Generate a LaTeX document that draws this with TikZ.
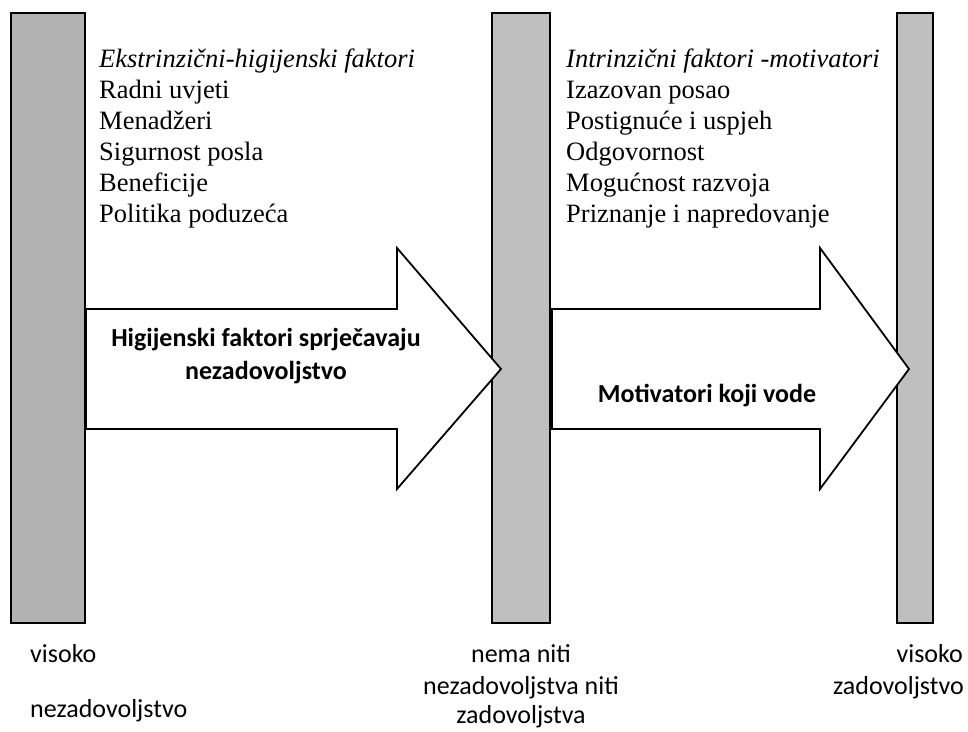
\documentclass[tikz,border=0pt]{standalone}
\usepackage{fontspec}
\setmainfont{Liberation Serif}
\newfontfamily\calibri{Carlito}
\begin{document}
\begin{tikzpicture}[x=1pt,y=-1pt,
        bar/.style={draw,line width=2.5pt,fill=#1},
        bigarrow/.style={draw,line width=1.8pt,fill=white,line join=miter},
        listtxt/.style={anchor=base west,inner sep=0pt,font=\fontsize{26.5}{31}\selectfont},
        armtxt/.style={align=center,inner sep=0pt,font=\calibri\bfseries\fontsize{26}{33}\selectfont},
        lbl/.style={inner sep=0pt,font=\calibri\fontsize{26}{32}\selectfont}]
    \useasboundingbox (0,0) rectangle (968,731);
    % bars
    \draw[bar=black!30] (11,13) rectangle (85,623);
    \draw[bar=black!25] (492,13) rectangle (550,623);
    \draw[bar=black!25] (897,13) rectangle (933,623);
    % arrows
    \draw[bigarrow] (86,309) -- (397,309) -- (397,248) -- (501,369) -- (397,489) -- (397,429) -- (86,429) -- cycle;
    \draw[bigarrow] (552,309) -- (820,309) -- (820,248) -- (909,369) -- (820,489) -- (820,429) -- (552,429) -- cycle;
    \node[armtxt] (hyg) at (266,356) {Higijenski faktori sprječavaju\\nezadovoljstvo};
    \node[armtxt,anchor=base] (mot) at (707,402) {Motivatori koji vode};
    % lists
    \node[listtxt] (ektitle) at (99,67) {\itshape Ekstrinzični-higijenski faktori};
    \foreach \t [count=\i] in {Radni uvjeti,Menadžeri,Sigurnost posla,Beneficije,Politika poduzeća}
        \node[listtxt] (ek\i) at (99,67+31*\i) {\t};
    \node[listtxt] (intitle) at (566,67) {\itshape Intrinzični faktori -motivatori};
    \foreach \t [count=\i] in {Izazovan posao,Postignuće i uspjeh,Odgovornost,Mogućnost razvoja,Priznanje i napredovanje}
        \node[listtxt] (in\i) at (566,67+31*\i) {\t};
    % labels below
    \node[lbl,anchor=base west] (lo1) at (30,662) {visoko};
    \node[lbl,anchor=base west] (lo2) at (30,717) {nezadovoljstvo};
    \node[lbl,anchor=base] (mid1) at (521,662) {nema niti};
    \node[lbl,anchor=base] (mid2) at (521,694) {nezadovoljstva niti};
    \node[lbl,anchor=base] (mid3) at (521,723) {zadovoljstva};
    \node[lbl,anchor=base east] (hi1) at (963,662) {visoko};
    \node[lbl,anchor=base east] (hi2) at (964,694) {zadovoljstvo};
\end{tikzpicture}
\end{document}
